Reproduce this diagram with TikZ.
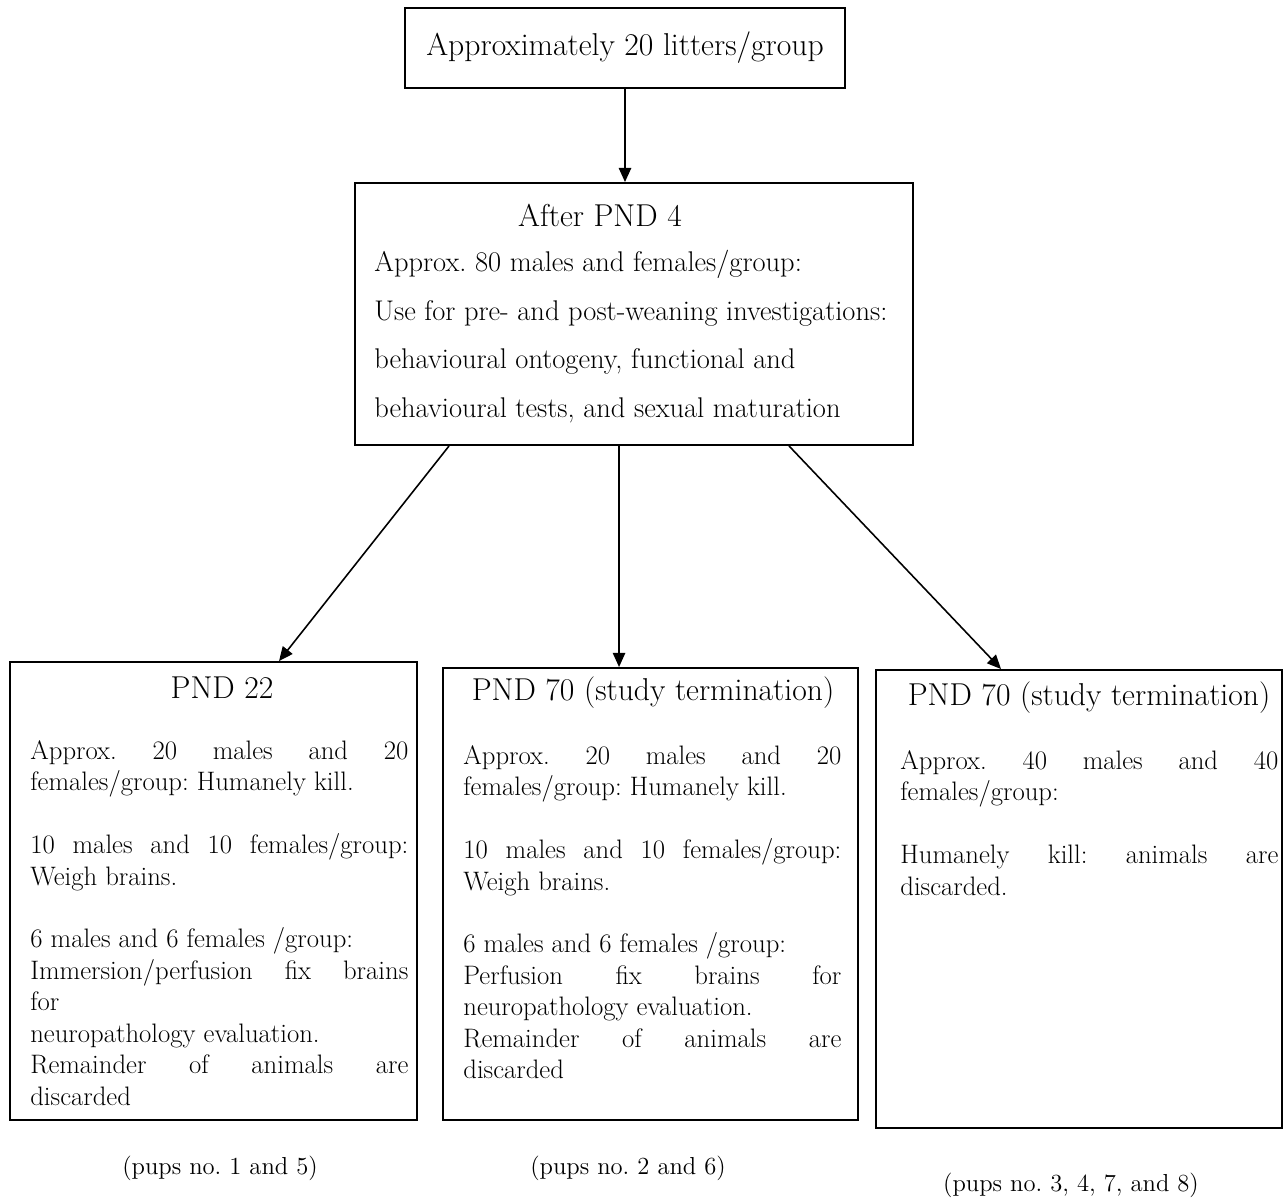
\documentclass[tikz,border=0pt]{standalone}
\usetikzlibrary{arrows.meta}

\newcommand{\titlefont}{\fontsize{18}{21}\selectfont}
\newcommand{\bodyfont}{\fontsize{15.2}{17.9}\selectfont}
\newcommand{\widefont}{\fontsize{16.2}{27.6}\selectfont}
\newcommand{\capfont}{\fontsize{14}{16}\selectfont}
\frenchspacing

\begin{document}
\begin{tikzpicture}[x=0.02cm,y=-0.02cm,
  stage/.style={draw,line width=1.1pt,inner sep=0pt},
  heading/.style={font=\titlefont,anchor=base,inner sep=0pt},
  body/.style={font=\bodyfont,anchor=north west,inner sep=0pt,text width=378*\Px,align=justify},
  caption/.style={font=\capfont,inner sep=0pt},
  flow/.style={-{Triangle[length=8pt,width=7pt]},line width=0.9pt}]
% One unit is one pixel of the scan
\newdimen\Px
\Px=0.02cm
\useasboundingbox (0,0) rectangle (1284,1200);
        \node[stage,minimum width=440*\Px,minimum height=80*\Px,font=\titlefont] (litters) at (625,48) {Approximately 20 litters/group};
        \node[stage,minimum width=558*\Px,minimum height=262*\Px] (pnd4) at (634,314) {};
        \node[stage,minimum width=407*\Px,minimum height=458*\Px] (pnd22) at (213.5,891) {};
        \node[stage,minimum width=415*\Px,minimum height=452*\Px] (pnd70a) at (650.5,894) {};
        \node[stage,minimum width=406*\Px,minimum height=458*\Px] (pnd70b) at (1079,899) {};
        % texts inside the boxes
        \node[heading] (pnd4head) at (600,226) {After PND 4};
        \node[font=\widefont,anchor=north west,inner sep=0pt,align=left] (pnd4text) at (374,250) {Approx. 80 males and females/group:\\ Use for pre- and post-weaning investigations:\\ behavioural ontogeny, functional and\\ behavioural tests, and sexual maturation};
        \node[heading] (pnd22head) at (222,698) {PND 22};
        \node[body] (pnd22text) at (30,740) {Approx. 20 males and 20\linebreak females/group: Humanely kill.\\[17.9pt] 10 males and 10 females/group:\linebreak Weigh brains.\\[17.9pt] 6 males and 6 females /group:\\ Immersion/perfusion fix brains\linebreak for\\ neuropathology evaluation.\\ Remainder of animals are\linebreak discarded};
        \node[heading] (pnd70ahead) at (653,700) {PND 70 (study termination)};
        \node[body] (pnd70atext) at (463,745) {Approx. 20 males and 20\linebreak females/group: Humanely kill.\\[17.9pt] 10 males and 10 females/group:\linebreak Weigh brains.\\[17.9pt] 6 males and 6 females /group:\\ Perfusion fix brains for\linebreak neuropathology evaluation.\\ Remainder of animals are\linebreak discarded};
        \node[heading] (pnd70bhead) at (1089,705) {PND 70 (study termination)};
        \node[body] (pnd70btext) at (900,750) {Approx. 40 males and 40\linebreak females/group:\\[17.9pt] Humanely kill: animals are\linebreak discarded.};
        % captions under the boxes
        \node[caption] (cap22) at (220,1168) {(pups no. 1 and 5)};
        \node[caption] (cap70a) at (628,1168) {(pups no. 2 and 6)};
        \node[caption] (cap70b) at (1071,1185) {(pups no. 3, 4, 7, and 8)};
        % arrows
        \draw[flow] (litters.south) -- (litters.south |- pnd4.north);
        \draw[flow] ([xshift=95*\Px]pnd4.south west) -- ([xshift=270*\Px]pnd22.north west);
        \draw[flow] ([xshift=265*\Px]pnd4.south west) -- ([xshift=265*\Px]pnd4.south west |- pnd70a.north);
        \draw[flow] ([xshift=435*\Px]pnd4.south west) -- ([xshift=126*\Px]pnd70b.north west);
\end{tikzpicture}
\end{document}
